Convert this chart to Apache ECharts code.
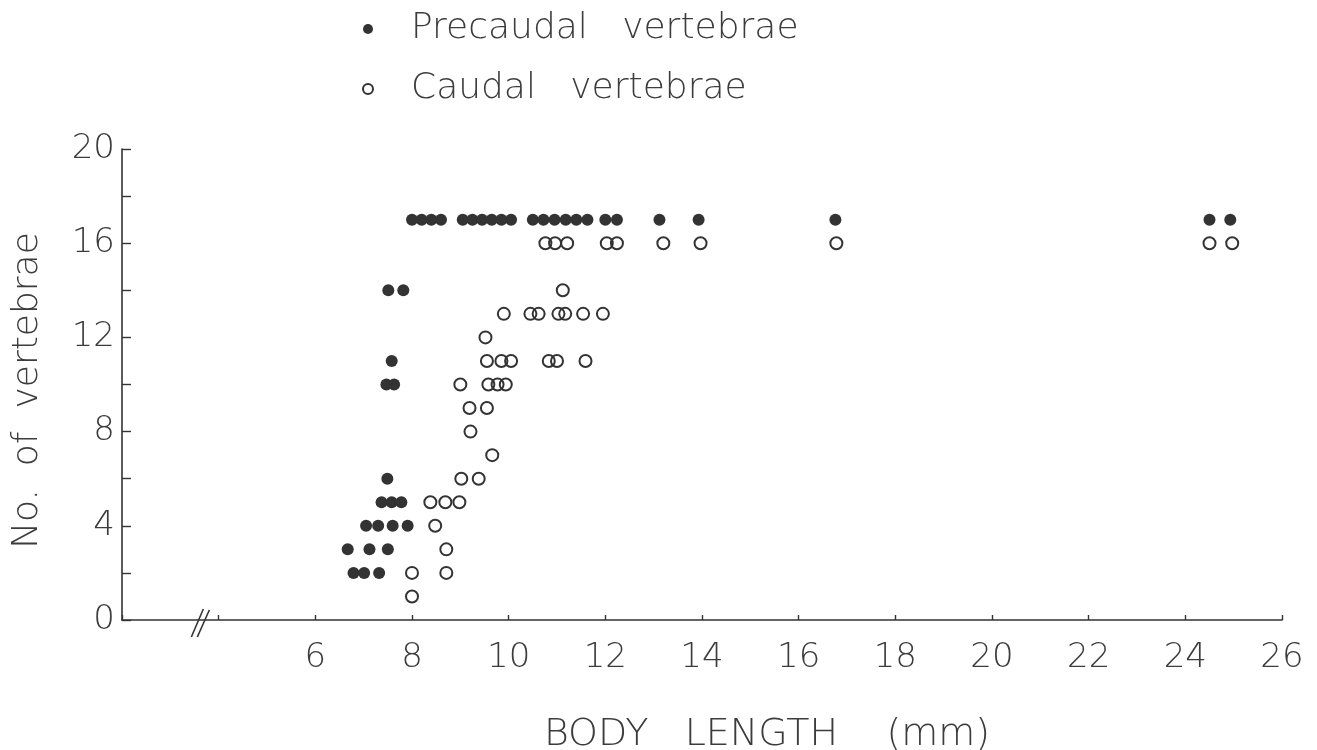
<!DOCTYPE html>
<html>
<head>
<meta charset="utf-8">
<script src="https://cdn.jsdelivr.net/npm/echarts@6/dist/echarts.min.js"></script>
<style>
html,body{margin:0;padding:0;background:#ffffff;}
#chart{width:1317px;height:750px;}
</style>
</head>
<body>
<div id="chart"></div>
<script>
// ---- data (body length in mm, number of vertebrae) ----
const precaudalX = [6.67, 7.12, 7.5,
                    6.79, 7.01, 7.32,
                    7.05, 7.3, 7.6, 7.91,
                    7.37, 7.58, 7.78,
                    7.49,
                    7.47, 7.63,
                    7.58,
                    7.51, 7.82,
                    8.0, 8.2, 8.4, 8.6, 9.05, 9.25, 9.45, 9.65, 9.85, 10.05,
                    10.5, 10.72, 10.95, 11.18, 11.4, 11.63, 12.0, 12.24, 13.12, 13.93, 16.76, 24.5, 24.93];
const precaudalY = [3, 3, 3,
                    2, 2, 2,
                    4, 4, 4, 4,
                    5, 5, 5,
                    6,
                    10, 10,
                    11,
                    14, 14,
                    17, 17, 17, 17, 17, 17, 17, 17, 17, 17,
                    17, 17, 17, 17, 17, 17, 17, 17, 17, 17, 17, 17, 17];
const caudalX = [8.0,
                 8.0, 8.71,
                 8.71,
                 8.48,
                 8.38, 8.69, 8.98,
                 9.02, 9.38,
                 9.66,
                 9.21,
                 9.19, 9.55,
                 9.0, 9.58, 9.77, 9.94,
                 9.55, 9.85, 10.05, 10.83, 11.0, 11.59,
                 9.52,
                 9.9, 10.45, 10.62, 11.03, 11.17, 11.54, 11.95,
                 11.12,
                 10.76, 10.96, 11.21, 12.03, 12.24, 13.2, 13.97, 16.78, 24.5, 24.97];
const caudalY = [1,
                 2, 2,
                 3,
                 4,
                 5, 5, 5,
                 6, 6,
                 7,
                 8,
                 9, 9,
                 10, 10, 10, 10,
                 11, 11, 11, 11, 11, 11,
                 12,
                 13, 13, 13, 13, 13, 13, 13,
                 14,
                 16, 16, 16, 16, 16, 16, 16, 16, 16, 16];
const xTickLabels = [6, 8, 10, 12, 14, 16, 18, 20, 22, 24, 26];
const yTickLabels = [0, 4, 8, 12, 16, 20];
const seriesNames = ['Precaudal vertebrae', 'Caudal vertebrae'];
const xAxisTitle = 'BODY   LENGTH    (mm)';
const yAxisTitle = 'No.  of  vertebrae';
const axisBreakAt = 3.6;

// ---- chart ----
const ink = '#333333';
const textInk = '#3c3c3c';
const font = "'DejaVu Sans', 'Liberation Sans', sans-serif";

const zip = (xs, ys) => xs.map((x, i) => [x, ys[i]]);

const chart = echarts.init(document.getElementById('chart'), null, {renderer: 'canvas'});

const option = {
  backgroundColor: '#ffffff',
  animation: false,
  textStyle: {fontFamily: font},
  grid: {left: 122, right: 35, top: 149, bottom: 130, containLabel: false, outerBoundsMode: 'none'},
  legend: {
    orient: 'vertical',
    left: 357,
    top: 5,
    itemWidth: 76,
    itemHeight: 10,
    itemGap: 22,
    symbolKeepAspect: true,
    formatter: name => name.replace(' ', '   '),
    textStyle: {fontFamily: font, fontSize: 36, fontWeight: 300, color: textInk, lineHeight: 38},
    data: [
      {name: seriesNames[0], icon: 'circle', itemStyle: {color: ink, borderWidth: 0}},
      {name: seriesNames[1], icon: 'circle', itemStyle: {color: 'rgba(0,0,0,0)', borderColor: ink, borderWidth: 2}}
    ]
  },
  xAxis: {
    type: 'value',
    min: 2,
    max: 26,
    interval: 2,
    name: xAxisTitle,
    nameLocation: 'middle',
    nameGap: 96,
    nameTextStyle: {fontFamily: font, fontSize: 38, fontWeight: 300, color: textInk, padding: [0, 0, 0, 130]},
    axisLine: {show: true, onZero: false, lineStyle: {color: ink, width: 1.6}},
    axisTick: {show: true, inside: true, length: 5, lineStyle: {color: ink, width: 1.4}},
    axisLabel: {
      margin: 21,
      fontFamily: font, fontSize: 34, fontWeight: 300, color: textInk,
      formatter: v => (xTickLabels.indexOf(v) >= 0 ? String(v) : '')
    },
    splitLine: {show: false}
  },
  yAxis: {
    type: 'value',
    min: 0,
    max: 20,
    interval: 2,
    name: yAxisTitle,
    nameLocation: 'middle',
    nameGap: 76,
    nameTextStyle: {fontFamily: font, fontSize: 36, fontWeight: 300, color: textInk, padding: [0, 12, 0, 0]},
    axisLine: {show: true, onZero: false, lineStyle: {color: ink, width: 1.6}},
    axisTick: {show: true, inside: true, length: 9, lineStyle: {color: ink, width: 1.4}},
    axisLabel: {
      margin: 7,
      fontFamily: font, fontSize: 34, fontWeight: 300, color: textInk,
      formatter: v => (yTickLabels.indexOf(v) >= 0 ? String(v) : '')
    },
    splitLine: {show: false}
  },
  series: [
    {
      name: seriesNames[0],
      type: 'scatter',
      symbol: 'circle',
      symbolSize: 12,
      itemStyle: {color: ink, opacity: 1},
      data: zip(precaudalX, precaudalY),
      z: 3
    },
    {
      name: seriesNames[1],
      type: 'scatter',
      symbol: 'circle',
      symbolSize: 12,
      itemStyle: {color: 'rgba(0,0,0,0)', borderColor: ink, borderWidth: 2, opacity: 1},
      data: zip(caudalX, caudalY),
      z: 2
    }
  ]
};

chart.setOption(option);

// axis break marks "//" placed through the chart's own coordinate system
const bp = chart.convertToPixel({gridIndex: 0}, [axisBreakAt, 0]);
chart.setOption({
  graphic: [
    {type: 'line', shape: {x1: bp[0] - 8, y1: bp[1] + 17, x2: bp[0] + 4, y2: bp[1] - 11}, style: {stroke: ink, lineWidth: 1.6}, z: 10},
    {type: 'line', shape: {x1: bp[0] - 2, y1: bp[1] + 17, x2: bp[0] + 10, y2: bp[1] - 10}, style: {stroke: ink, lineWidth: 1.6}, z: 10}
  ]
});
</script>
</body>
</html>
